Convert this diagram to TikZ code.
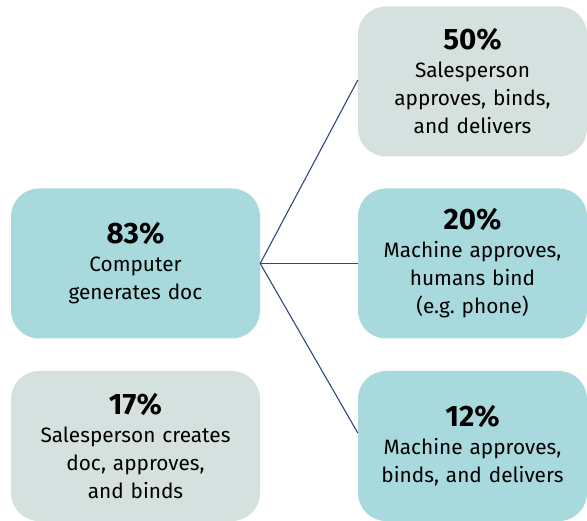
\documentclass[tikz,border=0pt]{standalone}
\usepackage{fontspec}
\setmainfont{Fira Sans}
\usepackage{tikz}
\usetikzlibrary{calc}

\definecolor{tealbox}{HTML}{A8D9DD}
\definecolor{greybox}{HTML}{D4E1DF}
\definecolor{navyline}{HTML}{2E4A7D}

\newcommand{\pct}[1]{{\fontsize{29.5}{31}\selectfont\bfseries #1}\\}

\begin{document}
\begin{tikzpicture}[x=1pt,y=-1pt,
    box/.style={rounded corners=28pt,minimum height=150pt,align=center,
      inner sep=0pt,font=\fontsize{20.8}{28}\selectfont},
    wide/.style={box,minimum width=249pt,text width=245pt},
    narrow/.style={box,minimum width=229pt,text width=227pt},
    link/.style={navyline,line width=1.1pt}]
            \useasboundingbox (0,0) rectangle (587,521);
            % left column
            \node [wide,fill=tealbox] (gen) at (135.5,263.5)
                {\pct{83\%}Computer\\generates doc};
            \node [wide,fill=greybox] (manual) at (135.5,446)
                {\pct{17\%}Salesperson creates\\doc, approves,\\and binds};
            % right column
            \node [narrow,fill=greybox] (sales) at (472.5,81.5)
                {\pct{50\%}Salesperson\\approves, binds,\\and delivers};
            \node [narrow,fill=tealbox] (phone) at (472.5,263.5)
                {\pct{20\%}Machine approves,\\humans bind\\(e.g.\ phone)};
            \node [narrow,fill=tealbox] (auto) at (472.5,446)
                {\pct{12\%}Machine approves,\\binds, and delivers};
            % branches
            \draw [link] (gen.east) -- ([yshift=1.5pt]sales.west);
            \draw [link] (gen.east) -- (phone.west);
            \draw [link] (gen.east) -- ([yshift=13pt]auto.west);
        \end{tikzpicture}
\end{document}
